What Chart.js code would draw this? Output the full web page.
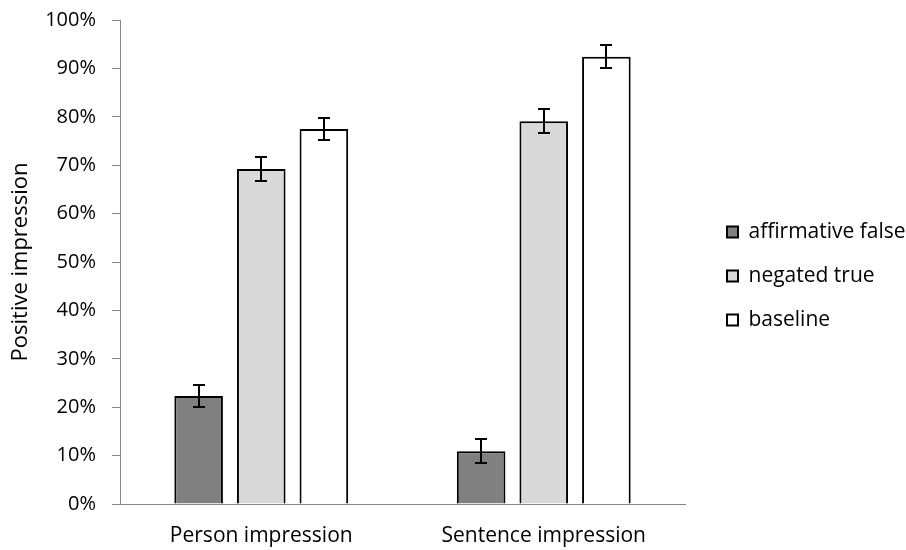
<!DOCTYPE html>
<html>
<head>
<meta charset="utf-8">
<script src="https://cdn.jsdelivr.net/npm/chart.js@4"></script>
<style>
  html, body { margin: 0; padding: 0; background: #fff; }
  #wrap { width: 906px; height: 550px; }
</style>
</head>
<body>
<div id="wrap"><canvas id="chart"></canvas></div>
<script>
const categories = ["Person impression", "Sentence impression"];
const seriesNames = ["affirmative false", "negated true", "baseline"];
const affirmativeFalse = [22.3, 10.9];
const negatedTrue = [69.2, 79.1];
const baseline = [77.5, 92.4];
const affirmativeFalseErr = [2.3, 2.5];
const negatedTrueErr = [2.4, 2.5];
const baselineErr = [2.2, 2.4];
const yTicks = [0, 10, 20, 30, 40, 50, 60, 70, 80, 90, 100];

const fontFamily = "'Open Sans', sans-serif";
const errors = [affirmativeFalseErr, negatedTrueErr, baselineErr];

// error bars drawn on top of the bars
const errorBarPlugin = {
  id: "errorBars",
  afterDatasetsDraw(chart) {
    const ctx = chart.ctx;
    const y = chart.scales.y;
    ctx.save();
    ctx.strokeStyle = "#000";
    ctx.lineWidth = 2;
    chart.data.datasets.forEach((ds, i) => {
      const meta = chart.getDatasetMeta(i);
      meta.data.forEach((bar, j) => {
        const v = ds.data[j];
        const e = errors[i][j];
        const top = Math.round(y.getPixelForValue(v + e));
        const bot = Math.round(y.getPixelForValue(v - e));
        const x = Math.round(bar.x);
        ctx.beginPath();
        ctx.moveTo(x, top); ctx.lineTo(x, bot);
        ctx.moveTo(x - 6, top); ctx.lineTo(x + 6, top);
        ctx.moveTo(x - 6, bot); ctx.lineTo(x + 6, bot);
        ctx.stroke();
      });
    });
    ctx.restore();
  }
};

// empty spacer axes, only used to push the plot area around
const spacer = (pos, size) => ({
  position: pos,
  display: true,
  grid: { display: false },
  border: { display: false },
  ticks: { display: false },
  afterFit(scale) {
    if (pos === "top") scale.height = size; else scale.width = size;
  }
});

const ctx = document.getElementById("chart").getContext("2d");
new Chart(ctx, {
  type: "bar",
  data: {
    labels: categories,
    datasets: [
      { label: seriesNames[0], data: affirmativeFalse, backgroundColor: "#808080", borderColor: "#000", borderWidth: 2 },
      { label: seriesNames[1], data: negatedTrue, backgroundColor: "#d9d9d9", borderColor: "#000", borderWidth: 2 },
      { label: seriesNames[2], data: baseline, backgroundColor: "#ffffff", borderColor: "#000", borderWidth: 2 }
    ]
  },
  options: {
    responsive: true,
    maintainAspectRatio: false,
    animation: false,
    categoryPercentage: 0.665,
    barPercentage: 0.776,
    layout: { padding: { top: 2, right: 0, bottom: 0, left: 0 } },
    plugins: {
      tooltip: { enabled: false },
      legend: {
        position: "right",
        align: "center",
        maxWidth: 202,
        labels: {
          color: "#000",
          font: { family: fontFamily, size: 21 },
          boxWidth: 11,
          boxHeight: 11,
          padding: 23
        }
      }
    },
    scales: {
      x: {
        grid: { display: false },
        border: { display: true, color: "#868686", width: 1 },
        ticks: { color: "#000", font: { family: fontFamily, size: 21 }, padding: 11 },
        afterFit(scale) { scale.height = 46; }
      },
      y: {
        min: 0,
        max: 100,
        afterBuildTicks(scale) { scale.ticks = yTicks.map(v => ({ value: v })); },
        afterFit(scale) { scale.width = 120; },
        grid: { display: true, drawOnChartArea: false, drawTicks: true, tickLength: 8, color: "#868686" },
        border: { display: true, color: "#868686", width: 1 },
        ticks: { color: "#000", font: { family: fontFamily, size: 20, lineHeight: 0.3 }, padding: 16, callback: v => v + "%" },
        title: { display: true, text: "Positive impression", color: "#000", font: { family: fontFamily, size: 22 }, padding: { top: 8, bottom: 0 } }
      },
      gapTop: spacer("top", 18),
      gapRight: spacer("right", 19)
    }
  },
  plugins: [errorBarPlugin]
});
</script>
</body>
</html>
